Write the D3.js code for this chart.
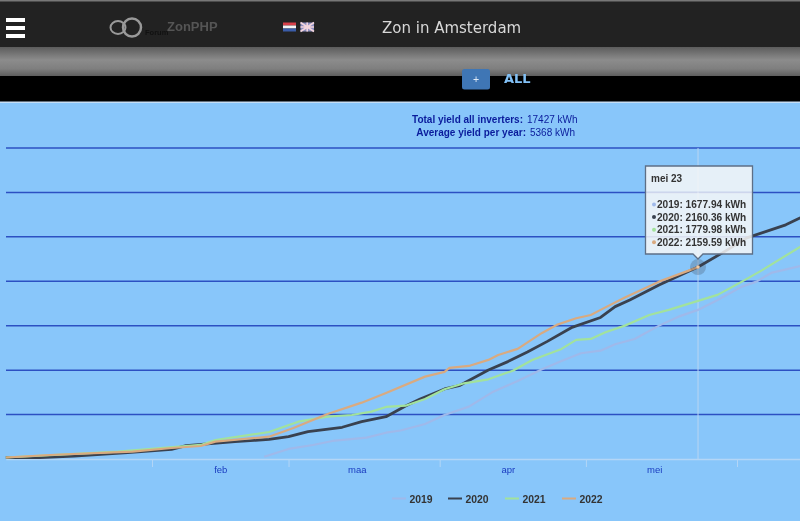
<!DOCTYPE html>
<html lang='en'>
	<head>
		<meta charset='UTF-8'>
		<title>Zon in Amsterdam</title>
		<style>
			html, body { margin: 0; padding: 0; background: #000; overflow: hidden; }
			svg { display: block; filter: blur(0.35px); }
			text { font-family: 'Liberation Sans', sans-serif; }
		</style>
	</head>
	<body>
		<svg id='graph' width='800' height='521'></svg>

		<script src='https://d3js.org/d3.v7.min.js'></script>
		<script>
			// day of year / cumulative kWh
			const days2019 = [54, 59, 64, 68, 75, 79, 82, 87, 91, 96, 101, 106, 111, 115, 119, 123, 126, 130, 135, 139, 143, 147, 152, 155, 158, 164]
			const values2019 = [26, 113, 158, 203, 240, 296, 321, 394, 495, 589, 758, 878, 1010, 1103, 1190, 1219, 1292, 1351, 1501, 1602, 1677.94, 1790, 1940, 1996, 2094, 2173]
			const days2020 = [1, 8, 15, 26, 35, 38, 48, 55, 59, 63, 70, 74, 79, 83, 86, 91, 94, 100, 104, 108, 112, 117, 123, 126, 129, 135, 143, 148, 153, 161, 164]
			const values2020 = [17, 17, 34, 73, 109, 150, 195, 222, 251, 307, 357, 420, 476, 597, 676, 788, 825, 1002, 1096, 1205, 1321, 1478, 1593, 1715, 1790, 1959, 2160.36, 2320, 2488, 2635, 2714]
			const days2021 = [1, 24, 34, 41, 44, 55, 61, 67, 72, 76, 79, 83, 87, 91, 95, 100, 105, 109, 115, 118, 121, 124, 128, 133, 137, 143, 147, 152, 156, 164]
			const values2021 = [17, 82, 127, 158, 214, 304, 420, 476, 495, 533, 586, 600, 676, 785, 852, 897, 994, 1115, 1239, 1340, 1351, 1427, 1501, 1621, 1678, 1779.98, 1847, 1996, 2120, 2390]
			const days2022 = [1, 10, 27, 35, 41, 44, 55, 60, 67, 74, 79, 87, 91, 92, 96, 100, 102, 106, 111, 114, 118, 121, 123, 128, 135, 143]
			const values2022 = [17, 45, 82, 124, 146, 195, 251, 349, 507, 634, 743, 927, 980, 1025, 1047, 1115, 1171, 1239, 1419, 1509, 1584, 1621, 1678, 1818, 1996, 2159.59]

			const years = ['2019', '2020', '2021', '2022']
			const yearDays = [days2019, days2020, days2021, days2022]
			const yearValues = [values2019, values2020, values2021, values2022]
			const tooltipValues = ['1677.94', '2160.36', '1779.98', '2159.59']
			const colors = ['#9fb9ea', '#39414f', '#a2e29c', '#d9aa80']

			const monthStarts = [31, 59, 90, 120, 151]
			const monthMiddles = [45, 73, 104, 134]
			const monthLabels = ['feb', 'maa', 'apr', 'mei']
			const gridValues = [500, 1000, 1500, 2000, 2500, 3000, 3500]
			const hoverDay = 143

			const svg = d3.select('#graph')
			const defs = svg.append('defs')

			const grad = defs.append('linearGradient').attr('id', 'band').attr('x1', 0).attr('x2', 0).attr('y1', 0).attr('y2', 1)
			grad.append('stop').attr('offset', '0%').attr('stop-color', '#5c5c5c')
			grad.append('stop').attr('offset', '45%').attr('stop-color', '#8c8c8c')
			grad.append('stop').attr('offset', '75%').attr('stop-color', '#7f7f7f')
			grad.append('stop').attr('offset', '100%').attr('stop-color', '#5e5e5e')

			// page chrome
			svg.append('rect').attr('width', 800).attr('height', 521).attr('fill', '#88c6fa')
			svg.append('rect').attr('width', 800).attr('height', 102).attr('fill', '#000')
			svg.append('rect').attr('width', 800).attr('height', 47).attr('fill', '#222')
			svg.append('rect').attr('width', 800).attr('height', 1.5).attr('fill', '#777')
			svg.append('rect').attr('y', 47).attr('width', 800).attr('height', 29).attr('fill', 'url(#band)')
			svg.append('rect').attr('y', 101.5).attr('width', 800).attr('height', 1.5).attr('fill', '#c5def5')

			const burger = svg.append('g')
			;[18, 26, 34].forEach((y) => {
				burger.append('rect').attr('x', 6).attr('y', y).attr('width', 19).attr('height', 4).attr('fill', '#fff')
			})

			const logo = svg.append('g').attr('fill', 'none').attr('stroke', '#999')
			logo.append('ellipse').attr('cx', 118).attr('cy', 27.5).attr('rx', 7.5).attr('ry', 6.5).attr('stroke-width', 2)
			logo.append('circle').attr('cx', 132).attr('cy', 27.5).attr('r', 9).attr('stroke-width', 2.5)
			svg.append('text').attr('x', 145).attr('y', 35).attr('font-size', 7.5).attr('font-weight', 'bold').attr('fill', '#111').text('Forum')
			svg.append('text').attr('x', 167).attr('y', 31).attr('font-size', 13).attr('font-weight', 'bold').attr('fill', '#555').text('ZonPHP')

			// flags
			const nl = ['#d8404a', '#f4f4f4', '#3a5ca8']
			nl.forEach((c, i) => {
				svg.append('rect').attr('x', 283).attr('y', 22.5 + i * 3).attr('width', 13).attr('height', 3).attr('fill', c)
			})
			svg.append('rect').attr('x', 300.5).attr('y', 22.5).attr('width', 13.5).attr('height', 9).attr('fill', '#8d8fc0')
			svg.append('path').attr('d', 'M300.5 22.5L314 31.5M314 22.5L300.5 31.5M307.2 22.5V31.5M300.5 27H314').attr('stroke', '#f2d4dc').attr('stroke-width', 1.6)

			svg.append('text').attr('x', 382).attr('y', 32.5).style('font-family', "'DejaVu Sans'").attr('font-size', 15).attr('fill', '#d8d8d8').text('Zon in Amsterdam')

			// the + button and ALL
			svg.append('rect').attr('x', 462).attr('y', 69).attr('width', 28).attr('height', 20.5).attr('rx', 2.5).attr('fill', '#3f76b5')
			svg.append('text').attr('x', 476).attr('y', 83).attr('text-anchor', 'middle').attr('font-size', 10.5).attr('fill', '#dfeaf6').text('+')
			svg.append('text').attr('x', 504).attr('y', 82.5).style('font-family', "'DejaVu Sans'").attr('font-size', 13).attr('font-weight', 'bold').attr('fill', '#82c0f5').text('ALL')

			// totals above the chart
			const navy = '#0a1c9c'
			svg.append('text').attr('x', 523).attr('y', 123).attr('text-anchor', 'end').attr('font-size', 10).attr('font-weight', 'bold').attr('fill', navy).text('Total yield all inverters:')
			svg.append('text').attr('x', 527).attr('y', 123).attr('font-size', 10).attr('fill', navy).text('17427 kWh')
			svg.append('text').attr('x', 526).attr('y', 136).attr('text-anchor', 'end').attr('font-size', 10).attr('font-weight', 'bold').attr('fill', navy).text('Average yield per year:')
			svg.append('text').attr('x', 530).attr('y', 136).attr('font-size', 10).attr('fill', navy).text('5368 kWh')

			// scales
			const xScale = d3.scaleLinear().domain([1, 164]).range([5.8, 800.4])
			const yScale = d3.scaleLinear().domain([0, 3500]).range([459, 148])

			// grid
			svg.append('g')
				.selectAll('line')
				.data(gridValues)
				.enter()
				.append('line')
				.attr('x1', 6)
				.attr('x2', 800)
				.attr('y1', (v) => yScale(v))
				.attr('y2', (v) => yScale(v))
				.attr('stroke', '#2c50c2')
				.attr('stroke-width', 1.5)

			// x axis: ticks at the month starts, labels in the middle of the month
			const tickAxis = d3.axisBottom(xScale).tickValues(monthStarts).tickSizeInner(8).tickSizeOuter(0).tickFormat('')
			const tickG = svg.append('g').attr('transform', 'translate(0, 459)').call(tickAxis)
			tickG.select('.domain').attr('stroke', '#b4d6f6').attr('stroke-width', 1.5)
			tickG.selectAll('line').attr('stroke', '#b4d6f6').attr('stroke-width', 1)

			const labelAxis = d3.axisBottom(xScale).tickValues(monthMiddles).tickSize(0).tickPadding(7)
				.tickFormat((d, i) => monthLabels[i])
			const labelG = svg.append('g').attr('transform', 'translate(0, 459)').call(labelAxis)
			labelG.select('.domain').remove()
			labelG.selectAll('text').style('font-family', "'Liberation Sans'").attr('font-size', 9.5).attr('fill', '#1a3cc0')

			// hover line
			svg.append('line')
				.attr('x1', xScale(hoverDay))
				.attr('x2', xScale(hoverDay))
				.attr('y1', 148)
				.attr('y2', 459)
				.attr('stroke', '#b9d6f2')
				.attr('stroke-width', 1)

			// series
			const line = d3.line()
				.x((p) => xScale(p[0]))
				.y((p) => yScale(p[1]))

			years.forEach((year, i) => {
				svg.append('path')
					.attr('d', line(d3.zip(yearDays[i], yearValues[i])))
					.attr('fill', 'none')
					.attr('stroke', colors[i])
					.attr('stroke-width', i == 1 ? 2.8 : 2.2)
					.attr('stroke-linejoin', 'round')
			})

			// hover marker
			const hoverY = yScale(2160.36)
			svg.append('circle').attr('cx', xScale(hoverDay)).attr('cy', hoverY).attr('r', 8).attr('fill', '#39414f').attr('opacity', 0.25)
			svg.append('circle').attr('cx', xScale(hoverDay)).attr('cy', hoverY).attr('r', 1.8).attr('fill', '#f0c9a4')

			// tooltip
			const tip = svg.append('g')
			tip.append('path')
				.attr('d', 'M645.5 166H752.5V254H703L698 259L693 254H645.5Z')
				.attr('fill', '#f7f7f7')
				.attr('fill-opacity', 0.85)
				.attr('stroke', '#5d6f86')
				.attr('stroke-width', 1.3)
			tip.append('line').attr('x1', 646).attr('x2', 752).attr('y1', 192).attr('y2', 192).attr('stroke', '#2c50c2').attr('stroke-opacity', 0.12)
			tip.append('text').attr('x', 651).attr('y', 182).attr('font-size', 10).attr('font-weight', 'bold').attr('fill', '#333').text('mei 23')
			years.forEach((year, i) => {
				const rowY = 208 + i * 12.6
				tip.append('circle').attr('cx', 654).attr('cy', rowY - 3.5).attr('r', 2).attr('fill', colors[i])
				tip.append('text').attr('x', 657).attr('y', rowY).attr('font-size', 10.1).attr('font-weight', 'bold').attr('fill', '#333')
					.text(`${year}: ${tooltipValues[i]} kWh`)
			})

			// legend
			const legendX = [392, 448, 505, 562]
			years.forEach((year, i) => {
				svg.append('line').attr('x1', legendX[i]).attr('x2', legendX[i] + 14).attr('y1', 498.5).attr('y2', 498.5).attr('stroke', colors[i]).attr('stroke-width', 2)
				svg.append('text').attr('x', legendX[i] + 17.5).attr('y', 502.5).attr('font-size', 10.4).attr('font-weight', 'bold').attr('fill', '#333').text(year)
			})
		</script>
	</body>
</html>
